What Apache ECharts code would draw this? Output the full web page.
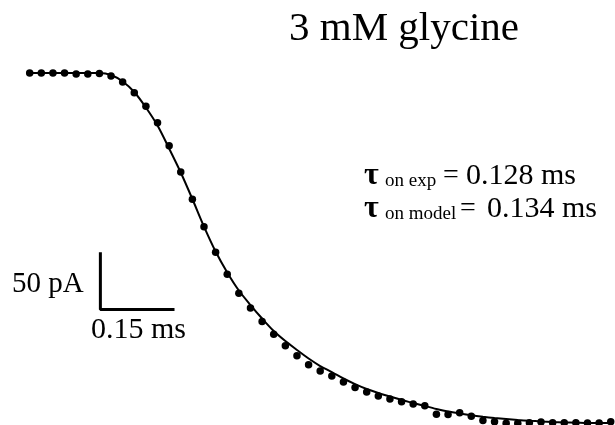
<!DOCTYPE html>
<html>
<head>
<meta charset="utf-8">
<script src="https://cdn.jsdelivr.net/npm/echarts@6/dist/echarts.min.js"></script>
<style>
  html, body { margin: 0; padding: 0; background: #fff; }
  #main { width: 615px; height: 425px; }
</style>
</head>
<body>
<div id="main"></div>
<script>
// sample times (ms)
const times = [0, 0.024, 0.048, 0.072, 0.096, 0.12, 0.144, 0.168, 0.192, 0.216,
  0.24, 0.264, 0.288, 0.312, 0.336, 0.36, 0.384, 0.408, 0.432, 0.456,
  0.48, 0.504, 0.528, 0.552, 0.576, 0.6, 0.624, 0.648, 0.672, 0.696,
  0.72, 0.744, 0.768, 0.792, 0.816, 0.84, 0.864, 0.888, 0.912, 0.936,
  0.96, 0.984, 1.008, 1.032, 1.056, 1.08, 1.104, 1.128, 1.152, 1.176, 1.2];

// measured current (pA), dots
const expCurrent = [0, 0, 0, 0, -0.9, -0.9, -0.4, -2.7, -8.1, -17.7,
  -29.9, -44.6, -65.2, -88.8, -113.3, -137.8, -160.8, -180.5, -197.6, -210.8,
  -222.9, -234.3, -244.6, -253.5, -261.6, -267.3, -271.7, -277.1, -282.1, -286.1,
  -289.7, -292.4, -294.8, -296.9, -298.4, -306.1, -306.3, -304.7, -307.9, -311.7,
  -312.8, -314.2, -314.2, -313.6, -313, -313.6, -313.6, -313.6, -313.9, -313.9, -312.7];

// model current (pA), solid line
const modelCurrent = [0, 0, 0, 0, 0, 0, 0, -1.8, -7.6, -17.0,
  -30.9, -47.1, -67.7, -89.2, -113.0, -137.7, -160.1, -178.9, -195.1, -208.1,
  -220.2, -231.4, -240.4, -248.4, -256.1, -262.8, -268.2, -274.0, -279.0, -283.4,
  -287.0, -290.1, -293.3, -296.0, -298.7, -301.3, -303.6, -305.4, -307.0, -308.3,
  -309.4, -310.3, -311.2, -311.9, -312.5, -313.0, -313.4, -313.6, -313.9, -313.9, -313.9];

// scale bar
const barOrigin = [0.146, -212.1];
const barTime = 0.15;     // ms
const barCurrent = 50;    // pA

const serif = '"Liberation Serif", "Times New Roman", serif';

function zip(xs, ys) {
  return xs.map((x, i) => [x, ys[i]]);
}

function txt(text, x, y, size, weight) {
  return {
    type: "text",
    x: x,
    y: y,
    style: {
      text: text,
      fill: "#000",
      font: (weight || "normal") + " " + size + "px " + serif,
      textAlign: "left",
      textVerticalAlign: "middle",
    },
  };
}

const chart = echarts.init(document.getElementById("main"));
chart.setOption({
  backgroundColor: "#fff",
  animation: false,
  grid: { left: 0, right: 0, top: 0, bottom: 0 },
  xAxis: { type: "value", min: -0.0613, max: 1.2088, show: false },
  yAxis: { type: "value", min: -315.7, max: 65.5, show: false },
  series: [
    {
      type: "line",
      data: zip(times, modelCurrent),
      symbol: "none",
      smooth: 0.3,
      lineStyle: { color: "#000", width: 2 },
    },
    {
      type: "scatter",
      data: zip(times, expCurrent),
      symbolSize: 7.5,
      itemStyle: { color: "#000", opacity: 1 },
    },
    {
      type: "line",
      data: [
        [barOrigin[0], barOrigin[1] + barCurrent],
        barOrigin,
        [barOrigin[0] + barTime, barOrigin[1]],
      ],
      symbol: "none",
      lineStyle: { color: "#000", width: 3, cap: "square" },
    },
  ],
  graphic: [
    txt("3 mM glycine", 289, 29, 41),
    txt("τ", 364, 176, 32, "bold"),
    txt("on exp", 385, 181, 19),
    txt("=", 443, 176, 28),
    txt("0.128 ms", 466, 176, 30),
    txt("τ", 364, 209, 32, "bold"),
    txt("on model", 385, 214, 19),
    txt("=", 460, 209, 28),
    txt("0.134 ms", 487, 209, 30),
    txt("50 pA", 12, 284, 29),
    txt("0.15 ms", 91, 330, 30),
  ],
});
</script>
</body>
</html>
